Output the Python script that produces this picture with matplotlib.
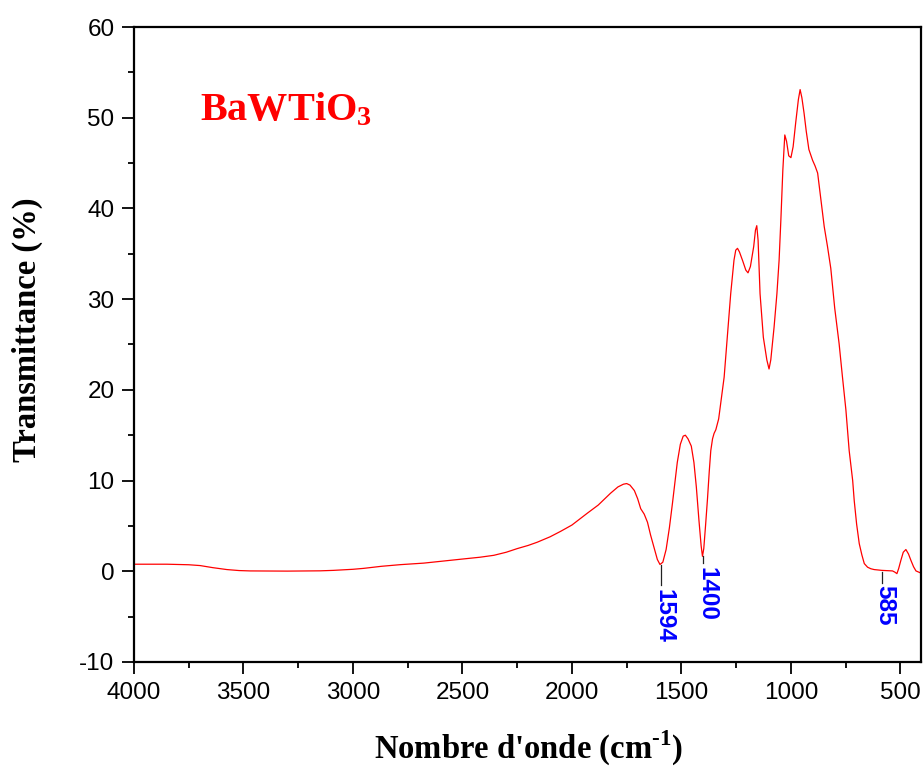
import matplotlib
matplotlib.use("Agg")
import matplotlib.pyplot as plt
from matplotlib.ticker import MultipleLocator

# FTIR spectrum (wavenumber cm-1, transmittance %)
wavenumber = [
    4000, 3850, 3750, 3698, 3640, 3576, 3520, 3470, 3300, 3150, 3090, 3000,
    2952, 2870, 2784, 2677, 2600, 2500, 2420, 2357, 2300, 2250, 2200, 2159,
    2100, 2052, 2000, 1930, 1880, 1824, 1790, 1765, 1750, 1735, 1715, 1700,
    1686, 1670, 1655, 1641, 1625, 1610, 1598, 1585, 1570, 1555, 1541, 1530,
    1519, 1505, 1492, 1482, 1470, 1455, 1443, 1432, 1420, 1410, 1404, 1398,
    1390, 1381, 1373, 1366, 1358, 1351, 1343, 1330, 1318, 1305, 1290, 1275,
    1260, 1252, 1244, 1235, 1220, 1206, 1196, 1185, 1170, 1162, 1156, 1150,
    1141, 1126, 1110, 1100, 1092, 1077, 1064, 1054, 1046, 1037,
    1028, 1020, 1010, 1000, 990, 978, 966, 958, 950, 940, 930, 918, 901, 890,
    878, 863, 848, 833, 818, 800, 780, 765, 749, 734, 718, 711, 700, 688,
    676, 665, 650, 635, 620, 585, 550, 536, 525, 516, 508, 498, 487, 475, 463,
    452, 440, 429, 415, 406,
]
transmittance = [
    0.78, 0.78, 0.72, 0.63, 0.40, 0.19, 0.08, 0.04, 0.02, 0.05, 0.10, 0.22,
    0.32, 0.55, 0.73, 0.90, 1.10, 1.35, 1.55, 1.76, 2.1, 2.5, 2.85, 3.2,
    3.8, 4.4, 5.1, 6.4, 7.3, 8.6, 9.3, 9.6, 9.67, 9.5, 8.9, 8.0,
    6.9, 6.3, 5.4, 4.0, 2.6, 1.3, 0.75, 1.0, 2.4, 4.8, 7.5, 9.8,
    12.0, 14.0, 14.9, 15.0, 14.6, 13.8, 12.0, 9.3, 5.6, 2.8, 1.65, 2.5,
    5.0, 8.0, 11.0, 13.3, 14.6, 15.2, 15.6, 16.8, 19.0, 21.4, 26.0, 30.6,
    34.3, 35.4, 35.6, 35.2, 34.2, 33.2, 32.9, 33.6, 35.8, 37.6, 38.1, 36.5,
    30.6, 25.8, 23.3, 22.3, 23.3, 26.9, 30.6, 34.3, 38.7, 44.2,
    48.1, 47.4, 45.8, 45.6, 46.8, 49.5, 52.0, 53.1, 52.2, 50.5, 48.5, 46.5, 45.3, 44.7,
    43.9, 40.9, 38.0, 35.8, 33.4, 29.0, 25.1, 21.5, 17.8, 13.3, 10.0, 7.8, 5.2, 3.05,
    1.8, 0.85, 0.45, 0.28, 0.19, 0.10, 0.05, 0.04, -0.1, -0.26, 0.3, 1.2, 2.1, 2.4, 1.9,
    1.2, 0.5, 0.04, -0.1, -0.2,
]

# marked bands: label, x, top/bottom of the marker line, top of the text
band_labels = ["1594", "1400", "585"]
band_x = [1594, 1400, 585]
band_line_top = [0.7, 1.7, -0.05]
band_line_bottom = [-1.5, 0.9, -1.3]
band_text_top = [-2.0, 0.45, -1.5]

x_ticks = [4000, 3500, 3000, 2500, 2000, 1500, 1000, 500]
y_ticks = [-10, 0, 10, 20, 30, 40, 50, 60]

plt.rcParams["mathtext.fontset"] = "custom"
plt.rcParams["mathtext.rm"] = "Liberation Serif:bold"
plt.rcParams["mathtext.bf"] = "Liberation Serif:bold"
plt.rcParams["axes.unicode_minus"] = False

fig = plt.figure(figsize=(9.23, 7.66), dpi=100)
ax = fig.add_axes([134 / 923, 104 / 766, 787 / 923, 635 / 766])

ax.plot(wavenumber, transmittance, color="red", lw=0.9)

for lab, x, y0, y1, yt in zip(band_labels, band_x, band_line_top,
                              band_line_bottom, band_text_top):
    ax.plot([x, x], [y0, y1], color="#222222", lw=0.9)
    ax.text(x - 15, yt, lab, rotation=270, ha="center", va="top",
            color="blue", fontsize=17.5, fontweight="bold",
            family="Liberation Sans")

ax.text(3700, 49.7, r"$\mathbf{BaWTiO_3}$", color="red", fontsize=29,
        ha="left", va="baseline")

ax.set_xlim(4000, 406)
ax.set_ylim(-10, 60)
ax.set_xticks(x_ticks)
ax.set_yticks(y_ticks)
ax.xaxis.set_minor_locator(MultipleLocator(250))
ax.yaxis.set_minor_locator(MultipleLocator(5))
ax.tick_params(which="both", direction="out", width=1.3, top=False, right=False)
ax.tick_params(which="major", length=8.6, labelsize=17.5, pad=5.5)
ax.tick_params(which="minor", length=4)
for lbl in ax.get_xticklabels() + ax.get_yticklabels():
    lbl.set_family("Liberation Sans")
for sp in ax.spines.values():
    sp.set_linewidth(1.6)

fig.text(528 / 923, 1 - 748 / 766, r"Nombre d'onde (cm$^{\text{-1}}$)",
         ha="center", va="center", fontsize=23.5, fontweight="bold",
         family="Liberation Serif")
fig.text(27 / 923, 1 - 330 / 766, "Transmittance (%)", rotation=90,
         ha="center", va="center", fontsize=23.5, fontweight="bold",
         family="Liberation Serif")

fig.savefig("out.png", dpi=100)
